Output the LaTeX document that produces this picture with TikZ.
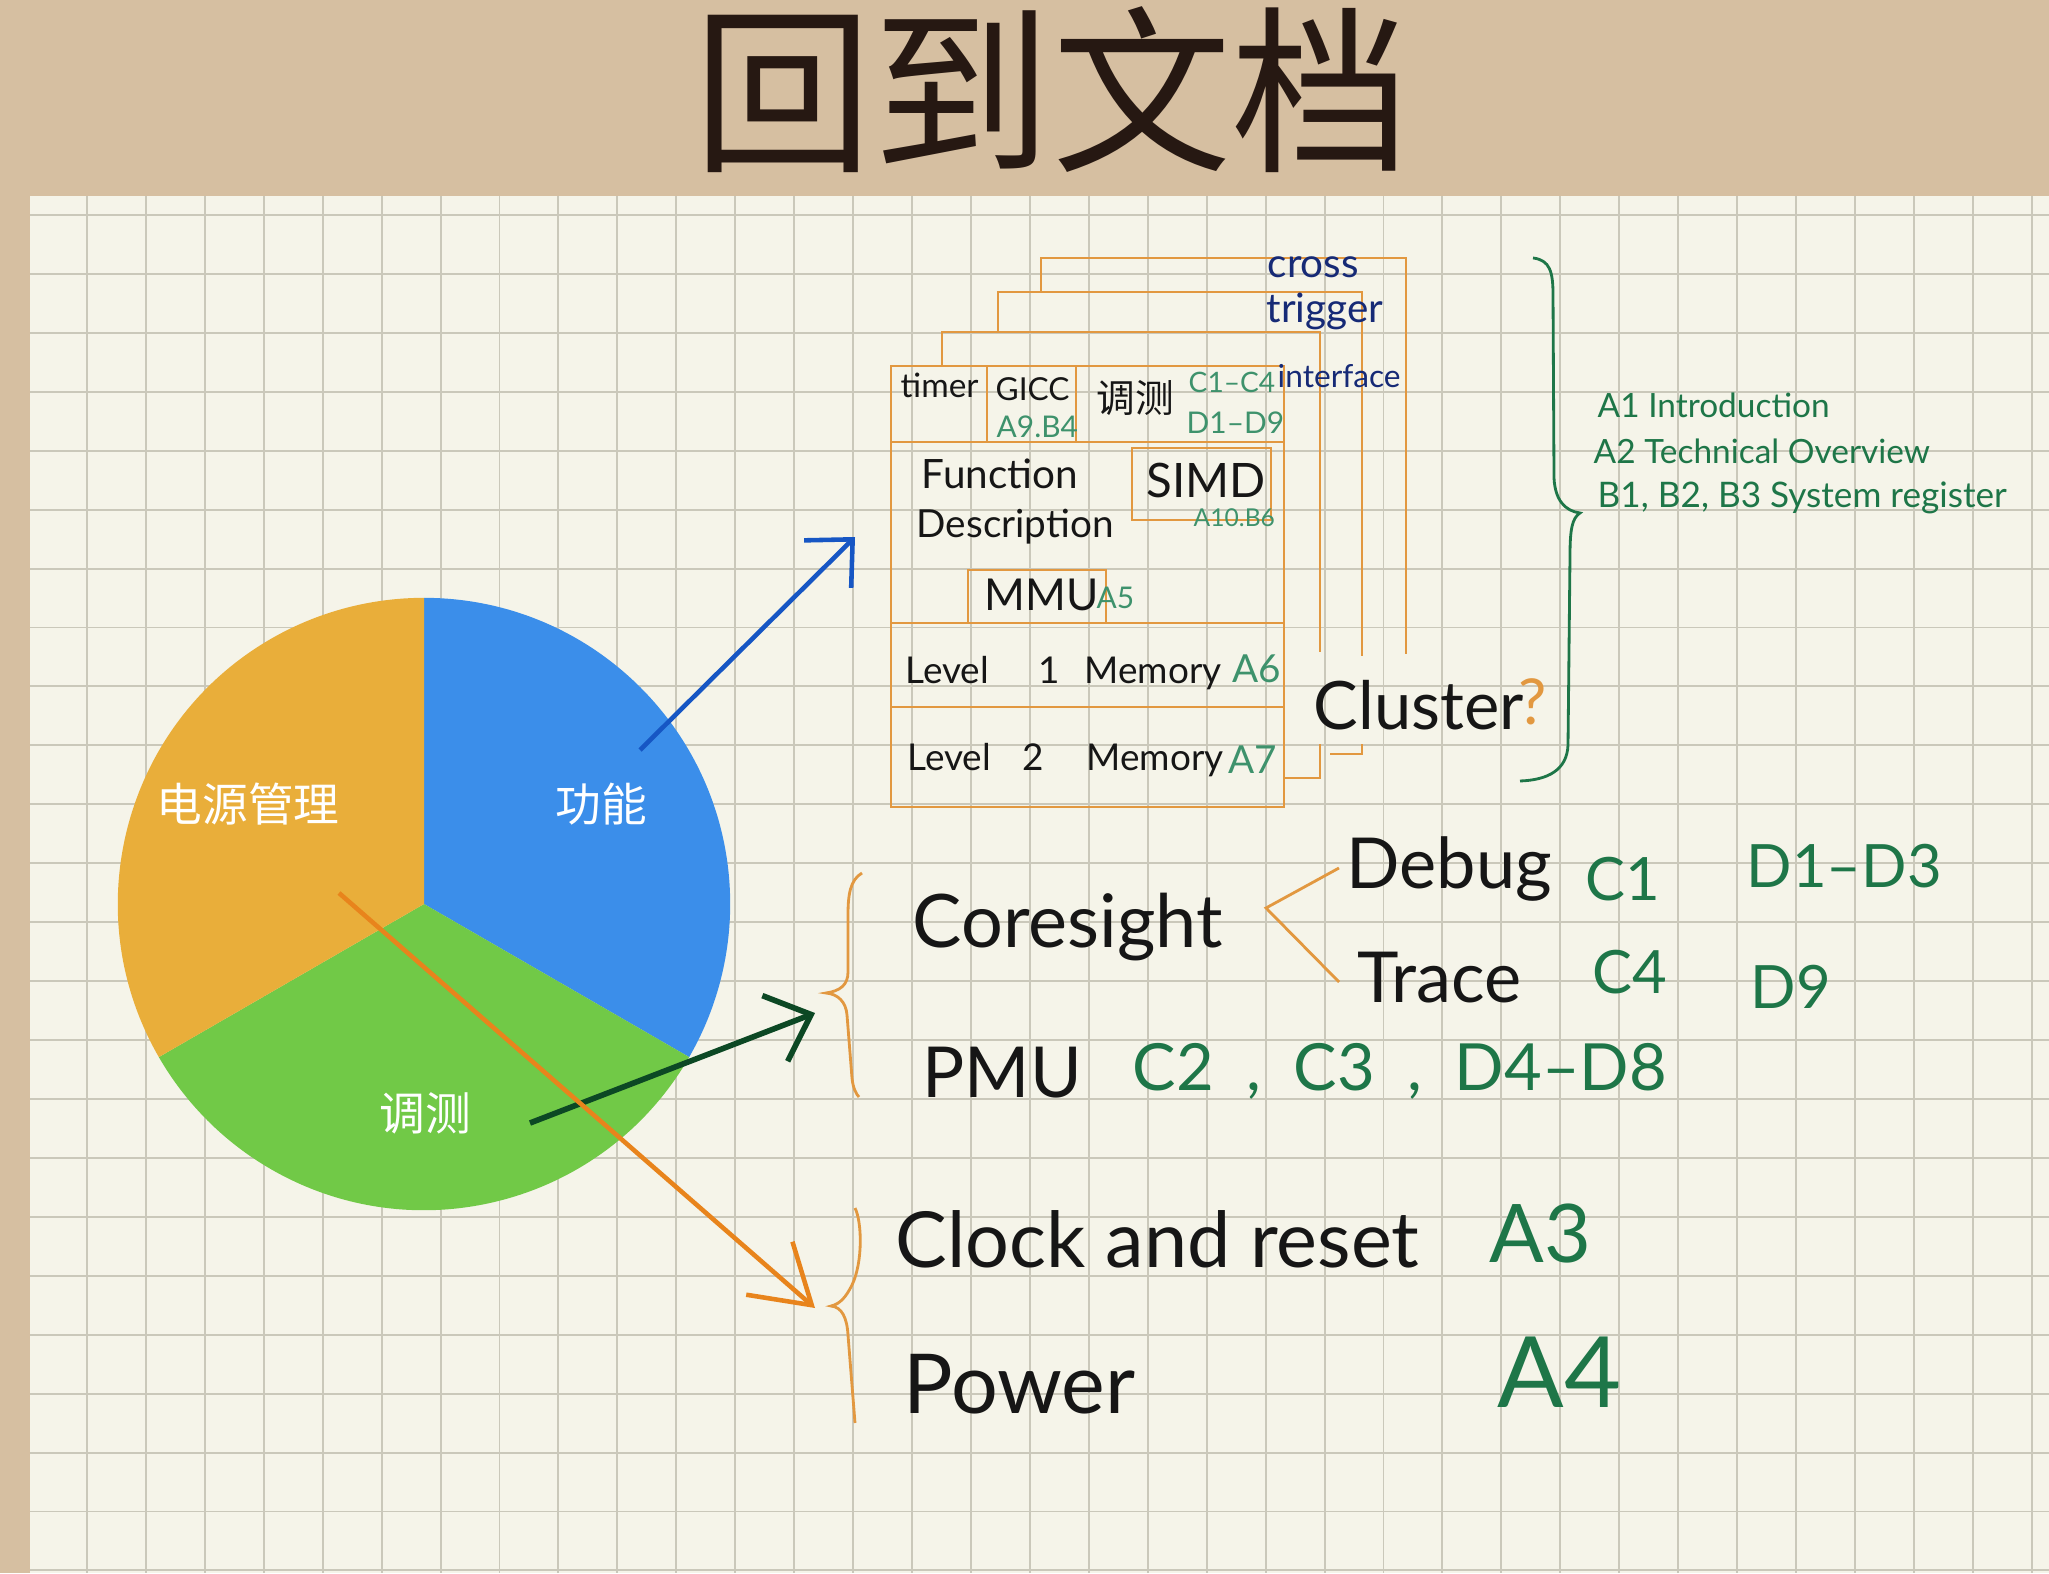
\documentclass[tikz,border=0pt]{standalone}
\usepackage{fontspec}
\setmainfont{Lato}
\newfontfamily\cjk{Noto Sans CJK SC}
\usetikzlibrary{arrows.meta}
\definecolor{tanbg}{RGB}{214,191,161}
\definecolor{paper}{RGB}{245,244,233}
\definecolor{gridgray}{RGB}{202,200,186}
\definecolor{pieblue}{RGB}{59,142,234}
\definecolor{piegreen}{RGB}{113,201,71}
\definecolor{pieorange}{RGB}{233,174,58}
\definecolor{boxorange}{RGB}{226,152,64}
\definecolor{inkblack}{RGB}{22,22,22}
\definecolor{titleink}{RGB}{38,24,18}
\definecolor{codegreen}{RGB}{30,118,72}
\definecolor{softgreen}{RGB}{62,146,108}
\definecolor{inknavy}{RGB}{22,42,118}
\definecolor{arrblue}{RGB}{22,86,196}
\definecolor{arrgreen}{RGB}{12,72,36}
\definecolor{arrorange}{RGB}{232,132,28}
\newcommand{\txtsz}[1]{\fontsize{#1}{#1}\selectfont}
\tikzset{
  gridline/.style={draw=gridgray,line width=0.55pt},
  boxline/.style={draw=boxorange,line width=0.8pt},
  bracel/.style={draw=boxorange,line width=0.8pt},
  greenbrace/.style={draw=codegreen,line width=0.8pt},
  hand/.style={anchor=base west,inner sep=0pt,text=inkblack},
  code/.style={anchor=base west,inner sep=0pt,text=codegreen},
  smallcode/.style={anchor=base west,inner sep=0pt,text=softgreen},
  cti/.style={anchor=base west,inner sep=0pt,text=inknavy,font=\txtsz{11.5}},
  pielabel/.style={inner sep=0pt,text=white,font=\cjk\txtsz{13}},
  funcarr/.style={-{Straight Barb[length=10pt,width=19pt]},draw=arrblue,line width=1.3pt},
  dbgarr/.style={-{Straight Barb[length=11pt,width=20pt]},draw=arrgreen,line width=1.6pt},
  pwrarr/.style={-{Straight Barb[length=16pt,width=20pt]},draw=arrorange,line width=1.3pt}
}

\begin{document}
\begin{tikzpicture}[x=0.01cm,y=-0.01cm]
  \useasboundingbox (0,0) rectangle (2049,1573);

  %% background and squared paper
  \fill[tanbg] (0,0) rectangle (2049,1573);
  \fill[paper] (30,196) rectangle (2049,1573);
  \begin{scope}
    \clip (30,196) rectangle (2049,1573);
    \foreach \gx in {0,...,33}
      \draw[gridline] ({87+58.93*\gx},196) -- ({87+58.93*\gx},1573);
    \foreach \gy in {0,...,23}
      \draw[gridline] (30,{215+58.93*\gy}) -- (2049,{215+58.93*\gy});
  \end{scope}

  %% title
  \node[font=\cjk\txtsz{51},text=titleink,inner sep=0pt] (title) at (1052,90) {回到文档};

  %% pie
  \coordinate (pc) at (424,904);
  \fill[pieblue] (pc) -- ++(90:3.06cm) arc[start angle=90,end angle=-30,radius=3.06cm] -- cycle;
  \fill[piegreen] (pc) -- ++(-30:3.06cm) arc[start angle=-30,end angle=-150,radius=3.06cm] -- cycle;
  \fill[pieorange] (pc) -- ++(-150:3.06cm) arc[start angle=-150,end angle=-270,radius=3.06cm] -- cycle;
  \node[pielabel] (func) at (601,804) {功能};
  \node[pielabel] (pwr) at (248,804) {电源管理};
  \node[pielabel] (dbg) at (425,1113) {调测};

  %% stacked cores (back layers)
  \draw[boxline] (1041,292) -- (1041,258) -- (1406,258) -- (1406,654);
  \draw[boxline] (998,332) -- (998,292) -- (1362,292) -- (1362,656);
  \draw[boxline] (1362,744) -- (1362,754) -- (1330,754);
  \draw[boxline] (942,366) -- (942,332) -- (1320,332) -- (1320,652);
  \draw[boxline] (1320,744) -- (1320,778) -- (1284,778);

  %% front core
  \draw[boxline] (891,366) rectangle (1284,807);
  \draw[boxline] (891,442) -- (1284,442);
  \draw[boxline] (987,366) -- (987,442);
  \draw[boxline] (1076,366) -- (1076,442);
  \draw[boxline] (891,623) -- (1284,623);
  \draw[boxline] (891,707) -- (1284,707);
  \draw[boxline] (1132,448) rectangle (1271,520);
  \draw[boxline] (968,623) -- (968,570) -- (1106,570) -- (1106,623);

  \node[hand,font=\txtsz{9.5}] (timer) at (900,397) {timer};
  \node[hand,font=\txtsz{9}] (gicc) at (995,400) {GICC};
  \node[smallcode,font=\txtsz{8.5}] (giccref) at (996,437) {A9.B4};
  \node[inner sep=0pt,text=inkblack,font=\cjk\txtsz{11}] (dbgcell) at (1135,398) {调测};
  \node[smallcode,font=\txtsz{8}] (dbgrefc) at (1188,393) {C1–C4};
  \node[smallcode,font=\txtsz{8.5}] (dbgrefd) at (1186,433) {D1–D9};
  \node[cti] (cross) at (1267,278) {cross};
  \node[cti] (trigger) at (1266,323) {trigger};
  \node[cti,font=\txtsz{9}] (iface) at (1277,388) {interface};
  \node[hand,font=\txtsz{11.5}] (fdesc1) at (921,488) {Function};
  \node[hand,font=\txtsz{11}] (fdesc2) at (916,537) {Description};
  \node[hand,font=\txtsz{13.5}] (simd) at (1146,497) {SIMD};
  \node[smallcode,font=\txtsz{7}] (simdref) at (1193,526) {A10.B6};
  \node[hand,font=\txtsz{12.5}] (mmu) at (984,610) {MMU};
  \node[smallcode,font=\txtsz{8.5}] (mmuref) at (1096,608) {A5};
  \node[hand,font=\txtsz{10.5}] (lone) at (905,683) {Level\hspace{14pt}1\hspace{7pt}Memory};
  \node[smallcode,font=\txtsz{11}] (loneref) at (1232,682) {A6};
  \node[hand,font=\txtsz{10.5}] (ltwo) at (907,770) {Level\hspace{9pt}2\hspace{12pt}Memory};
  \node[smallcode,font=\txtsz{11}] (ltworef) at (1228,773) {A7};
  \node[hand,font=\txtsz{19}] (cluster) at (1313,729) {Cluster};
  \node[anchor=base west,inner sep=0pt,text=boxorange,font=\txtsz{18}] (qmark) at (1518,724) {?};

  %% green brace and chapter list
  \draw[greenbrace] (1533,258) .. controls (1550,260) and (1553,272) .. (1553,295)
    -- (1554,478) .. controls (1555,500) and (1565,511) .. (1580,513)
    .. controls (1572,518) and (1570,530) .. (1570,555)
    -- (1568,745) .. controls (1567,770) and (1548,780) .. (1520,781);
  \node[code,font=\txtsz{9.5}] (intro) at (1597,418) {A1 Introduction};
  \node[code,font=\txtsz{9.5}] (overview) at (1593,463) {A2 Technical Overview};
  \node[code,font=\txtsz{10}] (sysreg) at (1597,507) {B1, B2, B3 System register};

  %% debug branch
  \draw[bracel] (862,873) .. controls (850,880) and (848,895) .. (848,915)
    -- (848,972) .. controls (848,985) and (840,991) .. (826,993)
    .. controls (838,994) and (846,1002) .. (847,1015)
    -- (852,1078) .. controls (853,1088) and (856,1094) .. (859,1097);
  \node[hand,font=\txtsz{21}] (coresight) at (912,947) {Coresight};
  \coordinate (fork) at (1266,908);
  \coordinate (forkup) at (1339,868);
  \coordinate (forklo) at (1339,982);
  \draw[bracel] (forkup) -- (fork) -- (forklo);
  \node[hand,font=\txtsz{20}] (debug) at (1346,888) {Debug};
  \node[hand,font=\txtsz{20}] (trace) at (1357,1002) {Trace};
  \node[code,font=\txtsz{17}] (debugc) at (1585,900) {C1};
  \node[code,font=\txtsz{17}] (debugd) at (1746,887) {D1–D3};
  \node[code,font=\txtsz{17}] (tracec) at (1592,993) {C4};
  \node[code,font=\txtsz{17}] (traced) at (1750,1008) {D9};
  \node[hand,font=\txtsz{20}] (pmu) at (922,1097) {PMU};
  \node[code,font=\txtsz{18.5}] (pmuref) at (1132,1090) {C2\enspace,\enspace C3\enspace,\enspace D4–D8};

  %% power branch
  \draw[bracel] (855,1208) .. controls (862,1222) and (863,1262) .. (852,1285)
    .. controls (846,1297) and (840,1304) .. (831,1306)
    .. controls (842,1307) and (847,1318) .. (848,1335) -- (855,1423);
  \node[hand,font=\txtsz{22}] (clock) at (895,1267) {Clock and reset};
  \node[code,font=\txtsz{23}] (clockref) at (1489,1262) {A3};
  \node[hand,font=\txtsz{23.5}] (power) at (903,1413) {Power};
  \node[code,font=\txtsz{28}] (powerref) at (1497,1407) {A4};

  %% arrows out of the pie
  \coordinate (funcfrom) at (640,750);
  \coordinate (functo) at (855,537);
  \coordinate (dbgfrom) at (530,1123);
  \coordinate (dbgto) at (815,1013);
  \coordinate (pwrfrom) at (339,893);
  \coordinate (pwrto) at (815,1308);
  \draw[funcarr] (funcfrom) -- (functo);
  \draw[dbgarr] (dbgfrom) -- (dbgto);
  \draw[pwrarr] (pwrfrom) -- (pwrto);
\end{tikzpicture}
\end{document}
